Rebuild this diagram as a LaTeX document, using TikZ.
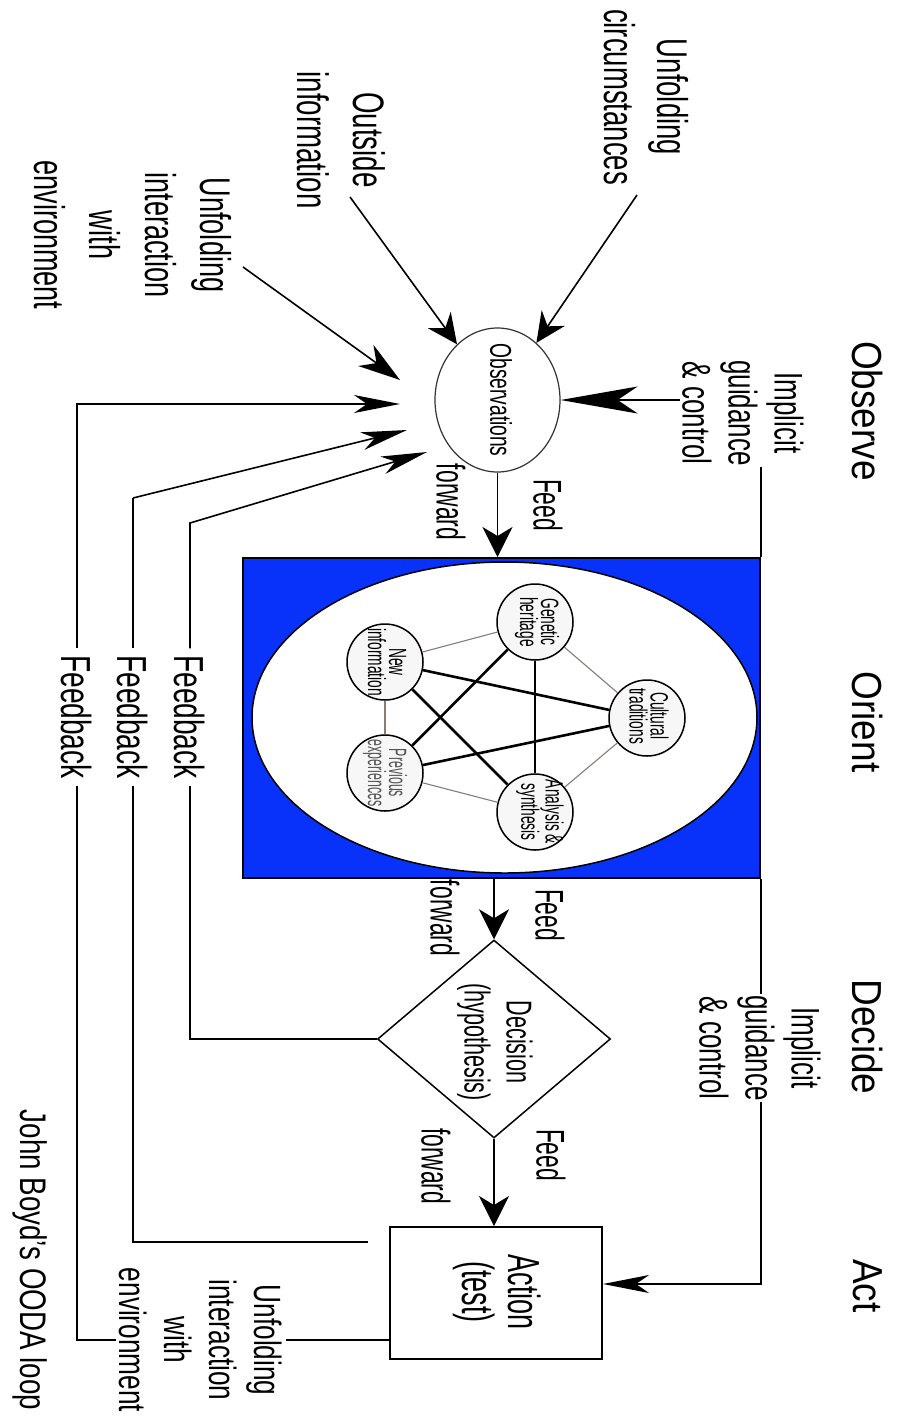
\documentclass[tikz,border=0pt]{standalone}
\usepackage{fontspec}
\setmainfont{Liberation Sans}
\usetikzlibrary{arrows.meta,shapes.geometric}
\definecolor{oblue}{RGB}{8,50,250}
\definecolor{thinln}{RGB}{140,122,122}
\definecolor{prevgray}{RGB}{85,85,85}
\newcommand\fz[2]{\fontsize{#1pt}{#2pt}\selectfont}
\begin{document}
\begin{tikzpicture}[x=1pt,y=-1pt,
  lbl/.style={rotate=-90, align=center, inner sep=2pt},
  hdr/.style={lbl, xscale=.88, font=\fz{42}{48}},
  ff/.style={lbl, xscale=.57, font=\fz{40}{46}},
  fbl/.style={lbl, xscale=.67, font=\fz{42}{48}, inner xsep=10pt, inner ysep=0pt},
  ctext/.style={lbl, xscale=.55, font=\fz{25}{21}, inner sep=0pt},
  ring/.style={circle, draw, line width=1.5pt, fill=black!3, minimum size=76pt, inner sep=0pt},
  ln/.style={line width=1.6pt},
  thinedge/.style={draw=thinln, line width=1.1pt},
  thickedge/.style={draw=black, line width=2.6pt},
  bigarr/.style={ln, -{Stealth[length=30pt,width=28pt,inset=10pt]}},
  uiarr/.style={ln, -{Stealth[length=42pt,width=26pt,inset=13pt]}},
  longarr/.style={ln, -{Stealth[length=77pt,width=27pt,inset=20pt]}},
  ffarr/.style={ln, -{Stealth[length=30pt,width=30pt,inset=9pt]}},
  midarr/.style={ln, -{Stealth[length=46pt,width=18pt,inset=13pt]}}
]
\useasboundingbox (0,0) rectangle (902,1422);

% phase headers
\node[hdr] (hObs) at (868,411) {Observe};
\node[hdr] (hOri) at (868,722) {Orient};
\node[hdr] (hDec) at (868,1037) {Decide};
\node[hdr] (hAct) at (868,1286) {Act};

% input labels
\node[lbl, xscale=.64, font=\fz{43}{53}] (circ) at (646,97) {Unfolding\\circumstances};
\node[lbl, xscale=.63, font=\fz{44}{56}] (outs) at (341,140) {Outside\\information};
\node[lbl, xscale=.63, font=\fz{43}{55.5}] (uie1) at (133,235) {Unfolding\\interaction\\with\\environment};
\node[lbl, xscale=.65, font=\fz{40}{46}] (ig1) at (743,413) {Implicit\\guidance\\\& control};
\node[lbl, xscale=.65, font=\fz{40}{46}] (ig2) at (760,1048) {Implicit\\guidance\\\& control};

% observations
\node[draw=black!80, line width=1.2pt, ellipse, minimum width=125pt, minimum height=144pt, inner sep=0pt] (obsE) at (497.5,400) {};
\node[lbl, xscale=.64, font=\fz{30}{34}] (obsT) at (501,400) {Observations};

% orient
\node[draw, line width=2pt, fill=oblue, minimum width=517pt, minimum height=320pt, inner sep=0pt] (orient) at (501.5,718) {};
\node[draw, line width=1.5pt, fill=white, ellipse, minimum width=505pt, minimum height=311pt, inner sep=0pt] (oriE) at (504.5,717.5) {};

\node[ring] (gen) at (535,622) {};
\node[ring] (cul) at (647,718) {};
\node[ring] (ana) at (535,812) {};
\node[ring] (pre) at (385,773) {};
\node[ring] (new) at (385,662) {};

\draw[thinedge] (new) -- (gen);
\draw[thinedge] (gen) -- (cul);
\draw[thinedge] (cul) -- (ana);
\draw[thinedge] (ana) -- (pre);
\draw[thinedge] (pre) -- (new);
\draw[thickedge] (new) -- (cul);
\draw[thickedge] (new) -- (ana);
\draw[thickedge] (gen) -- (pre);
\draw[thickedge] (gen) -- (ana);
\draw[thickedge] (pre) -- (cul);

\node[ctext] (tGen) at (537,622) {Genetic\\heritage};
\node[ctext] (tCul) at (649,716) {Cultural\\traditions};
\node[ctext] (tAna) at (540,812) {Analysis \&\\synthesis};
\node[ctext, xscale=.9, text=prevgray] (tPre) at (385,773) {Previous\\experiences};
\node[ctext] (tNew) at (387,662) {New\\information};

% decision
\node[diamond, draw, line width=1.5pt, minimum width=233pt, minimum height=198pt, inner sep=0pt] (dia) at (494,1039) {};
\node[lbl, xscale=.6, font=\fz{36}{42}] (diaT) at (495,1042) {Decision\\(hypothesis)};

% action
\node[draw, line width=2pt, minimum width=212pt, minimum height=132pt, inner sep=0pt] (act) at (496,1293) {};
\node[lbl, xscale=.6, font=\fz{45}{46}] (actT) at (497,1292) {Action\\(test)};

% feed forward labels
\node[ff] (f1a) at (548,505) {Feed};
\node[ff] (f1b) at (451,502) {forward};
\node[ff] (f2a) at (550,915) {Feed};
\node[ff] (f2b) at (445,918) {forward};
\node[ff] (f3a) at (551,1155) {Feed};
\node[ff] (f3b) at (436,1166) {forward};

% feedback labels
\node[fbl] (fbA) at (190,717) {Feedback};
\node[fbl] (fbB) at (133,717) {Feedback};
\node[fbl] (fbC) at (77,717) {Feedback};

\node[lbl, xscale=.69, font=\fz{38}{45}, inner sep=3pt] (uie2) at (201,1340) {Unfolding\\interaction\\with\\environment};
\node[lbl, xscale=.75, font=\fz{37}{42}] (boyd) at (30,1260) {John Boyd's OODA loop};

% coordinates for free ends
\coordinate (cS) at (637,195);
\coordinate (oS) at (350,197);
\coordinate (uS) at (243,267);
\coordinate (uT) at (400,380);
\coordinate (a1) at (0,523);
\coordinate (a1t) at (427,452);
\coordinate (b0) at (368,1242);
\coordinate (b1) at (0,498);
\coordinate (b1t) at (407,430);
\coordinate (c1t) at (400,404);
\coordinate (gA) at (0,1284);

% inputs
\draw[bigarr] (cS) -- (obsE);
\draw[bigarr] (oS) -- (obsE);
\draw[uiarr] (uS) -- (uT);
\draw[longarr] (ig1.south |- obsE.east) -- (obsE.east);

% implicit guidance line
\draw[ln] (orient.north east |- ig1.east) -- (orient.north east);
\draw[ln] (orient.south east) -- (orient.south east |- ig2.west);
\draw[midarr] (orient.south east |- ig2.east) |- (act.east |- gA);

% feed forward
\draw[ffarr] (obsE.south) -- (obsE.south |- orient.north);
\draw[ffarr] (dia.north |- orient.south) -- (dia.north);
\draw[ffarr] (dia.south) -- (dia.south |- act.north);

% feedback loops
\draw[ln] (dia.west) -| (fbA.east);
\draw[midarr] (fbA.west) -- (fbA.west |- a1) -- (a1t);
\draw[ln] (b0) -| (fbB.east);
\draw[ln, line width=2.4pt] (fbB.west) -- (fbB.west |- b1);
\draw[midarr] (fbB.west |- b1) -- (b1t);
\draw[ln] (act.west |- uie2.north) -- (uie2.north);
\draw[ln] (uie2.south) -| (fbC.east);
\draw[midarr] (fbC.west) |- (c1t);
\end{tikzpicture}
\end{document}
